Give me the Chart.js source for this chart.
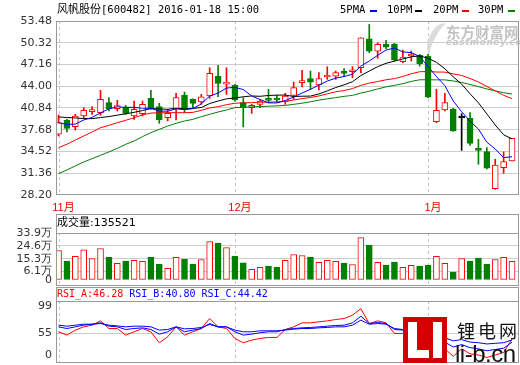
<!DOCTYPE html>
<html>
<head>
<meta charset="utf-8">
<script src="https://cdn.jsdelivr.net/npm/chart.js@4.4.0/dist/chart.umd.min.js"></script>
<style>
  body { margin: 0; background: #fff; }
  #wrap { position: relative; width: 520px; height: 365px; overflow: hidden;
          font-family: "DejaVu Sans Mono", "Noto Sans CJK SC", monospace; color: #000; }
  canvas { position: absolute; left: 0; }
  .t { position: absolute; white-space: nowrap; line-height: 1; }
  .dash { position: absolute; height: 2px; width: 7px; }
</style>
</head>
<body>
<div id="wrap">
  <canvas id="price" width="520" height="214" style="top:0"></canvas>
  <canvas id="vol" width="520" height="73" style="top:214px"></canvas>
  <canvas id="rsi" width="520" height="78" style="top:287px"></canvas>

  <!-- eastmoney watermark -->
  <div style="position:absolute;left:429px;top:22px;width:13px;height:34px;border-left:6px solid #d6d6d6;border-radius:60% 0 0 60%;transform:rotate(28deg);opacity:.85"></div>
  <div class="t" style="left:446px;top:21px;font:bold 14.5px 'Noto Sans CJK SC';color:#bdbdbd;opacity:.9">东方财富网</div>
  <div class="t" style="left:446px;top:37px;font:italic bold 9px 'DejaVu Sans';color:#c8c8c8;letter-spacing:.5px">eastmoney.com</div>

  <div class="t" id="title" style="left:57px;top:4px;font-size:10.5px"></div>

  <div class="t" style="left:340px;top:4px;font-size:10.5px">5PMA</div>
  <div class="dash" style="left:370px;top:10px;background:#0000ff"></div>
  <div class="t" style="left:387px;top:4px;font-size:10.5px">10PM</div>
  <div class="dash" style="left:415px;top:10px;background:#000"></div>
  <div class="t" style="left:433px;top:4px;font-size:10.5px">20PM</div>
  <div class="dash" style="left:462px;top:10px;background:#ff0000"></div>
  <div class="t" style="left:478px;top:4px;font-size:10.5px">30PM</div>
  <div class="dash" style="left:508px;top:10px;background:#008000"></div>

  <div class="t" id="volHead" style="left:57px;top:217px;font-size:11px;font-family:'DejaVu Sans','Noto Sans CJK SC'"></div>
  <div class="t" id="rsiHead" style="left:57px;top:289px;font-size:10px"></div>

  <!-- li-b.cn watermark -->
  <div style="position:absolute;left:403px;top:317px;width:44px;height:46px;background:#d40000">
    <div style="position:absolute;left:5px;top:5px;width:9px;height:36px;background:#fff"></div>
    <div style="position:absolute;left:5px;top:33px;width:21px;height:8px;background:#fff"></div>
    <div style="position:absolute;left:30px;top:5px;width:9px;height:36px;background:#fff"></div>
  </div>
  <div class="t" style="left:457px;top:317px;font:18px 'Noto Sans CJK SC';letter-spacing:3px;color:#111">锂电网</div>
  <div class="t" style="left:455px;top:340px;font:24px 'Liberation Sans';letter-spacing:-0.5px;color:#111">li-b.cn</div>
</div>

<script>
const stockName = "风帆股份";
const stockCode = "600482";
const quoteTime = "15:00";

const dates = [
  "2015-11-02","2015-11-03","2015-11-04","2015-11-05","2015-11-06",
  "2015-11-09","2015-11-10","2015-11-11","2015-11-12","2015-11-13",
  "2015-11-16","2015-11-17","2015-11-18","2015-11-19","2015-11-20",
  "2015-11-23","2015-11-24","2015-11-25","2015-11-26","2015-11-27",
  "2015-11-30",
  "2015-12-01","2015-12-02","2015-12-03","2015-12-04",
  "2015-12-07","2015-12-08","2015-12-09","2015-12-10","2015-12-11",
  "2015-12-14","2015-12-15","2015-12-16","2015-12-17","2015-12-18",
  "2015-12-21","2015-12-22","2015-12-23","2015-12-24","2015-12-25",
  "2015-12-28","2015-12-29","2015-12-30","2015-12-31",
  "2016-01-04","2016-01-05","2016-01-06","2016-01-07","2016-01-08",
  "2016-01-11","2016-01-12","2016-01-13","2016-01-14","2016-01-15",
  "2016-01-18"
];

const opens = [37.02,39.05,38.13,39.68,40.31,40.16,41.61,40.74,40.98,39.68,
  40.02,42.24,41.03,39.43,40.74,42.68,42.10,41.71,42.58,45.48,
  44.32,44.13,41.61,40.89,41.37,42.10,42.10,41.71,42.68,44.52,
  45.10,44.18,45.34,45.48,46.06,46.11,46.69,50.90,49.11,50.08,
  50.08,47.56,48.39,48.48,48.39,38.85,40.55,40.64,39.39,39.34,
  34.98,34.50,29.13,32.17,33.14];
const highs = [39.82,39.19,39.92,40.89,41.03,43.40,42.34,41.95,41.22,41.85,
  41.85,43.40,41.52,40.64,42.97,43.16,42.19,42.82,46.69,47.03,
  46.69,44.27,42.34,41.37,42.10,43.55,42.68,42.97,44.61,46.31,
  46.21,45.97,46.84,46.21,46.55,46.84,51.05,52.98,50.32,50.66,
  50.23,49.26,49.11,48.63,48.63,43.55,42.97,40.79,40.02,40.16,
  36.29,35.08,33.39,34.45,36.43];
const lows = [36.77,37.35,37.64,39.34,39.92,39.77,40.40,40.40,39.92,39.19,
  39.68,40.64,38.61,38.95,39.10,40.16,40.89,41.37,42.24,42.48,
  42.82,41.85,38.08,40.06,40.89,41.61,41.61,41.37,42.10,43.89,
  43.55,43.45,45.00,45.00,45.48,45.24,45.97,48.87,48.05,49.45,
  47.66,47.42,47.66,46.93,42.34,38.71,40.40,37.45,34.69,35.42,
  32.66,32.00,29.03,31.35,33.14];
const closes = [38.71,37.89,39.68,40.50,40.55,42.10,40.74,41.18,40.06,40.64,
  41.37,40.74,39.10,40.06,42.34,40.74,41.52,42.48,45.87,44.42,
  44.42,42.00,40.89,41.22,41.85,41.95,42.00,42.58,43.79,44.76,
  44.61,45.10,45.48,45.97,45.87,46.35,51.05,49.11,50.08,49.69,
  47.81,48.24,48.63,47.27,42.43,40.50,41.61,37.50,39.39,35.71,
  34.69,32.08,32.56,33.05,36.43];

const ma5 = [38.70,38.45,38.50,39.10,39.47,40.14,40.71,41.01,40.93,40.94,
  40.80,40.80,40.38,40.38,40.72,40.60,40.75,41.43,42.59,43.01,
  43.74,43.84,43.52,42.59,42.08,41.58,41.58,41.92,42.43,43.02,
  43.55,44.17,44.75,45.18,45.41,45.75,46.94,47.67,48.49,49.26,
  49.55,48.99,48.89,48.33,46.88,45.41,44.09,41.86,40.29,38.94,
  37.78,35.87,34.89,33.62,33.76];
const ma10 = [39.55,39.45,39.40,39.30,39.30,39.45,39.60,39.80,40.00,40.21,
  40.47,40.76,40.70,40.65,40.83,40.70,40.78,40.91,41.49,41.86,
  42.17,42.30,42.47,42.59,42.54,42.66,42.71,42.72,42.51,42.55,
  42.57,42.88,43.33,43.81,44.21,44.65,45.56,46.21,46.84,47.33,
  47.65,47.97,48.28,48.41,48.07,47.48,46.54,45.38,44.31,42.91,
  41.60,39.98,38.37,36.95,36.35];
const ma20 = [35.08,35.57,36.19,36.77,37.35,37.98,38.32,38.71,39.05,39.43,
  39.85,40.10,40.15,40.16,40.16,40.16,40.20,40.50,40.85,41.03,
  41.32,41.53,41.59,41.62,41.69,41.68,41.74,41.81,42.00,42.21,
  42.37,42.59,42.90,43.20,43.38,43.66,44.13,44.46,44.68,44.94,
  45.11,45.42,45.81,46.11,46.14,46.07,46.05,45.79,45.57,45.12,
  44.62,43.97,43.33,42.68,42.21];
const ma30 = [31.30,31.84,32.42,33.00,33.48,33.97,34.45,34.98,35.56,36.05,
  36.68,37.26,37.74,38.22,38.61,38.95,39.19,39.58,39.92,40.26,
  40.55,40.89,40.95,41.00,41.05,41.10,41.15,41.22,41.37,41.54,
  41.74,41.98,42.17,42.35,42.53,42.67,43.01,43.28,43.61,43.91,
  44.13,44.38,44.70,44.94,44.94,44.93,44.93,44.77,44.55,44.26,
  43.94,43.61,43.33,43.06,42.88];

// volume in 万 (10k shares)
const volumes = [21.3,13.6,17.0,21.7,15.5,22.7,16.3,12.0,13.6,14.1,
  13.4,16.3,11.5,8.4,16.3,15.1,11.5,14.8,27.7,26.7,
  23.4,17.2,12.4,7.7,9.1,10.0,9.3,14.1,18.4,17.7,
  16.5,12.7,14.1,13.4,12.2,11.2,30.6,25.1,12.7,10.8,
  12.9,9.1,10.5,10.0,10.8,17.0,12.0,5.7,15.5,13.6,
  15.8,11.5,14.8,16.3,13.5521];

const rsiA = [57.7,52.3,60.4,65.7,68.4,75.4,63.0,63.0,52.3,57.7,
  63.0,57.7,39.9,49.6,65.7,52.3,57.7,63.0,79.2,65.7,
  63.0,46.9,39.9,44.2,46.9,48.5,48.5,61.4,65.7,72.2,
  72.2,73.8,75.4,77.6,79.2,84.6,95.0,71.1,75.4,72.2,
  55.0,55.0,52.0,48.0,28.0,24.0,30.0,18.0,30.0,22.0,
  20.0,16.0,20.0,24.0,46.28];
const rsiB = [65.7,63.0,65.7,68.4,70.0,72.2,66.8,65.7,61.4,63.0,
  64.1,61.4,53.9,57.7,65.7,57.7,60.4,63.0,71.1,65.7,
  65.7,57.7,52.3,53.9,56.1,57.7,57.7,61.4,63.0,64.1,
  64.7,65.7,66.8,67.9,68.4,72.2,82.9,71.1,72.7,71.1,
  61.4,60.4,58.0,55.0,42.0,38.0,41.0,33.0,37.0,32.0,
  30.0,27.0,29.0,31.0,40.80];
const rsiC = [68.4,66.8,68.4,70.0,70.0,71.1,68.4,67.3,65.7,66.8,
  66.8,65.7,60.4,61.4,65.7,62.5,63.0,64.7,69.5,65.7,
  65.7,60.4,57.7,57.7,59.3,59.3,59.3,60.4,62.0,63.0,
  63.0,64.1,64.7,65.7,65.7,68.4,76.5,70.0,71.1,70.0,
  63.0,61.4,60.0,58.0,50.0,47.0,48.0,43.0,45.0,41.0,
  40.0,38.0,39.0,40.0,44.42];

const priceTicks = [28.20,31.36,34.52,37.68,40.84,44.00,47.16,50.32,53.48];
const volTicks = [0,6.1,15.3,24.6,33.9];
const rsiTicks = [55,99];

const RED = "#ff0000", GREEN = "#008000", BLUE = "#0000ff";

/* ---------- helpers ---------- */
const monthStarts = [];
dates.forEach((d, i) => {
  if (i === 0 || d.slice(5, 7) !== dates[i - 1].slice(5, 7)) monthStarts.push(i);
});
const monthLabel = i => parseInt(dates[i].slice(5, 7), 10) + "月";

const candleColor = closes.map((c, i) => c > opens[i] ? RED : (c < opens[i] ? GREEN : "#000"));
const candleFill = closes.map((c, i) => c > opens[i] ? "#fff" : candleColor[i]);
const volColor = closes.map((c, i) => c >= opens[i] ? RED : GREEN);
const volFill = closes.map((c, i) => c >= opens[i] ? "#fff" : GREEN);

const xy = arr => arr.map((v, i) => ({ x: i, y: v }));

const X_MIN = -0.3, X_MAX = 54.83;
const tickFont = { family: "DejaVu Sans", size: 11 };

function xScale(show) {
  const s = {
    type: "linear", min: X_MIN, max: X_MAX, offset: false, display: show,
    grid: { display: false, offset: false, drawTicks: false }, border: { display: false },
    afterBuildTicks: s => { s.ticks = monthStarts.map(v => ({ value: v })); },
    ticks: { autoSkip: false, maxRotation: 0, padding: 6, labelOffset: 5,
             color: RED, font: { family: "Liberation Sans, Noto Sans CJK SC", size: 11 },
             callback: v => monthLabel(v) }
  };
  if (show) s.afterFit = sc => { sc.height = 19; sc.paddingLeft = 0; sc.paddingRight = 0; };
  return s;
}

function yScale(min, max, ticks, fmt, gridOn) {
  return {
    min, max, position: "left",
    afterBuildTicks: s => { s.ticks = ticks.map(v => ({ value: v })); },
    afterFit: s => { s.width = 56; s.paddingTop = 0; s.paddingBottom = 0; },
    border: { display: false },
    grid: { drawTicks: false, color: c => (c.tick && gridOn(c.tick.value)) ? "#cccccc" : "rgba(0,0,0,0)" },
    ticks: { autoSkip: false, padding: 4, color: "#333", font: tickFont, callback: fmt }
  };
}

// month dashes + panel frame
function panelPlugin(headerH, extra) {
  return {
    id: "panel",
    beforeDatasetsDraw(chart) {
      const { ctx, chartArea: a, scales: { x } } = chart;
      ctx.save();
      ctx.strokeStyle = "#c4c4c4";
      ctx.lineWidth = 1;
      ctx.setLineDash([3, 3]);
      monthStarts.forEach(i => {
        const px = Math.round(x.getPixelForValue(i)) + 0.5;
        ctx.beginPath();
        ctx.moveTo(px, a.top);
        ctx.lineTo(px, a.bottom);
        ctx.stroke();
      });
      ctx.restore();
    },
    afterDraw(chart) {
      const { ctx, chartArea: a } = chart;
      ctx.save();
      ctx.strokeStyle = "#999";
      ctx.lineWidth = 1;
      const l = Math.round(a.left) + 0.5, r = Math.round(a.right) - 0.5;
      const t = Math.round(a.top - headerH) + 0.5, b = Math.round(a.bottom) - 0.5;
      ctx.strokeRect(l, t, r - l, b - t);
      if (headerH) {
        const s = Math.round(a.top) + 0.5;
        ctx.beginPath(); ctx.moveTo(l, s); ctx.lineTo(r, s); ctx.stroke();
      }
      if (extra) extra(chart);
      ctx.restore();
    }
  };
}

const common = {
  responsive: false, animation: false,
  plugins: { legend: { display: false }, tooltip: { enabled: false } }
};

/* ================= PRICE ================= */
new Chart(document.getElementById("price"), {
  type: "bar",
  data: {
    datasets: [
      { type: "line", data: xy(ma5), borderColor: BLUE, borderWidth: 1, pointRadius: 0, order: 1 },
      { type: "line", data: xy(ma10), borderColor: "#000", borderWidth: 1, pointRadius: 0, order: 1 },
      { type: "line", data: xy(ma20), borderColor: RED, borderWidth: 1, pointRadius: 0, order: 1 },
      { type: "line", data: xy(ma30), borderColor: GREEN, borderWidth: 1, pointRadius: 0, order: 1 },
      { data: opens.map((o, i) => ({ x: i, y: [o, closes[i]] })),
        backgroundColor: candleFill, borderColor: candleColor, borderWidth: 1,
        borderSkipped: false, barThickness: 6, minBarLength: 2, grouped: false, order: 2 },
      { data: lows.map((l, i) => ({ x: i, y: [l, highs[i]] })),
        backgroundColor: candleColor, borderWidth: 0, barThickness: 1, grouped: false, order: 3 }
    ]
  },
  options: {
    ...common,
    layout: { autoPadding: false, padding: { left: 0, right: 1, top: 21, bottom: 0 } },
    scales: {
      x: xScale(true),
      y: yScale(28.20, 53.48, priceTicks, v => v.toFixed(2), v => v !== 28.20 && v !== 53.48)
    }
  },
  plugins: [panelPlugin(0)]
});

/* ================= VOLUME ================= */
new Chart(document.getElementById("vol"), {
  type: "bar",
  data: {
    datasets: [{
      data: xy(volumes), backgroundColor: volFill, borderColor: volColor, borderWidth: 1,
      borderSkipped: false, barThickness: 6, grouped: false
    }]
  },
  options: {
    ...common,
    layout: { autoPadding: false, padding: { left: 0, right: 1, top: 19, bottom: 1 } },
    scales: {
      x: xScale(false),
      y: yScale(-4.33, 33.9, volTicks, v => v === 0 ? "0" : v.toFixed(1) + "万",
                v => v > 0 && v < 33.9)
    }
  },
  plugins: [panelPlugin(19)]
});

/* ================= RSI ================= */
new Chart(document.getElementById("rsi"), {
  type: "line",
  data: {
    datasets: [
      { data: xy(rsiC), borderColor: BLUE, borderWidth: 1, pointRadius: 0 },
      { data: xy(rsiB), borderColor: BLUE, borderWidth: 1, pointRadius: 0 },
      { data: xy(rsiA), borderColor: RED, borderWidth: 1, pointRadius: 0 }
    ]
  },
  options: {
    ...common,
    layout: { autoPadding: false, padding: { left: 0, right: 1, top: 14, bottom: 2 } },
    scales: {
      x: xScale(false),
      y: yScale(7.1, 107.6, rsiTicks, v => String(v), v => v === 55)
    }
  },
  plugins: [panelPlugin(14, chart => {
    const { ctx, chartArea: a } = chart;
    ctx.fillStyle = "#333";
    ctx.font = "11px 'DejaVu Sans'";
    ctx.textAlign = "right";
    ctx.textBaseline = "middle";
    ctx.fillText("0", a.left - 4, a.bottom - 8);
  })]
});

/* ================= TEXT ================= */
const last = dates.length - 1;
document.getElementById("title").innerHTML =
  `<span style="font-size:11px">${stockName}</span>[${stockCode}] ${dates[last]} ${quoteTime}`;
document.getElementById("volHead").textContent = "成交量:" + Math.round(volumes[last] * 10000);
document.getElementById("rsiHead").innerHTML =
  `<span style="color:${RED}">RSI_A:${rsiA[last].toFixed(2)}</span> ` +
  `<span style="color:${BLUE}">RSI_B:${rsiB[last].toFixed(2)}</span> ` +
  `<span style="color:${BLUE}">RSI_C:${rsiC[last].toFixed(2)}</span>`;
</script>
</body>
</html>
